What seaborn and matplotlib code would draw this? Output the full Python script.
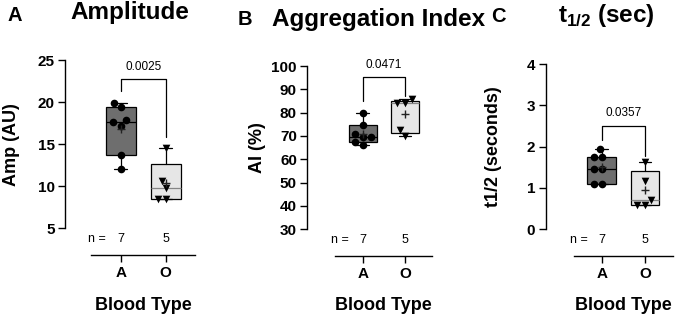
import numpy as np
import pandas as pd
import matplotlib
matplotlib.use("Agg")
from matplotlib import pyplot as plt
from matplotlib import transforms as mtransforms
import seaborn as sns

# values
groups = ["A", "O"]
n_counts = [7, 5]

amp_a = [19.9, 19.4, 17.9, 17.6, 17.2, 13.7, 12.0]
amp_o = [14.6, 10.6, 9.8, 8.5, 8.5]
ai_a = [79.7, 74.7, 70.7, 69.4, 69.4, 67.3, 66.1]
ai_o = [86.0, 84.3, 84.3, 72.5, 70.0]
t_a = [1.94, 1.76, 1.76, 1.45, 1.45, 1.09, 1.09]
t_o = [1.63, 1.18, 0.72, 0.60, 0.60]

p_values = ["0.0025", "0.0471", "0.0357"]
# bracket: top, left leg end, right leg end, label y
brackets = [(22.75, 21.35, 15.8, 24.2),
            (95.2, 85.0, 87.1, 100.4),
            (2.51, 2.16, 1.78, 2.81)]

letters = ["A", "B", "C"]
titles = ["Amplitude", "Aggregation Index", r"t$_{\mathbf{1/2}}$ (sec)"]
ylabels = ["Amp (AU)", "AI (%)", "t1/2 (seconds)"]
ylims = [(5, 25), (30, 100), (0, 4)]
yticks = [[5, 10, 15, 20, 25], [30, 40, 50, 60, 70, 80, 90, 100], [0, 1, 2, 3, 4]]

panels = [(amp_a, amp_o), (ai_a, ai_o), (t_a, t_o)]

# layout in pixels (678 x 320 figure)
W, H = 678, 320
spine_px = [65, 307.3, 545.7]
a_px = [120.7, 362.7, 601.7]
o_px = [165.7, 405.0, 645.0]
top_px = [60, 66, 64]
bottom_px = [228.3, 229.3, 229.3]
letter_pos = [(15, 20.7), (245, 25.0), (498, 21.7)]
title_pos = [(129.5, 19.5), (379, 26.0), (606, 21.7)]
ylabel_off = [53, 49.3, 52.7]

box_colors = ["#6e6e6e", "#e6e6e6"]
median_colors = ["black", "#858585"]
markers = ["o", "v"]

sns.set_theme(style="ticks")
plt.rcParams["font.family"] = ["Liberation Sans", "DejaVu Sans"]
plt.rcParams["font.weight"] = "bold"
plt.rcParams["axes.labelweight"] = "bold"
plt.rcParams["text.color"] = "black"
plt.rcParams["axes.labelcolor"] = "black"
plt.rcParams["xtick.color"] = "black"
plt.rcParams["ytick.color"] = "black"
plt.rcParams["mathtext.fontset"] = "custom"
plt.rcParams["mathtext.rm"] = "Liberation Sans:bold"
plt.rcParams["mathtext.bf"] = "Liberation Sans:bold"


def box_stats(vals):
    v = np.asarray(vals, dtype=float)
    q1, med, q3 = np.percentile(v, [25, 50, 75], method="weibull")
    return {"med": med, "q1": q1, "q3": q3,
            "whislo": v.min(), "whishi": v.max(), "fliers": []}


fig = plt.figure(figsize=(W / 100, H / 100), dpi=100)

for i, (vals_a, vals_o) in enumerate(panels):
    spacing = o_px[i] - a_px[i]
    xmin = -(a_px[i] - spine_px[i]) / spacing
    xmax = 1.65
    left = spine_px[i] / W
    width = spacing * (xmax - xmin) / W
    bottom = 1 - bottom_px[i] / H
    height = (bottom_px[i] - top_px[i]) / H
    ax = fig.add_axes([left, bottom, width, height])

    bp = ax.bxp([box_stats(vals_a), box_stats(vals_o)], positions=[0, 1],
                widths=0.66, capwidths=0.3, patch_artist=True, showfliers=False,
                manage_ticks=False,
                boxprops=dict(linewidth=0.9, edgecolor="black"),
                whiskerprops=dict(linewidth=0.9, color="black"),
                capprops=dict(linewidth=0.9, color="black"),
                medianprops=dict(linewidth=0.9))
    for patch, fc in zip(bp["boxes"], box_colors):
        patch.set_facecolor(fc)
    for med, mc in zip(bp["medians"], median_colors):
        med.set_color(mc)

    frames = []
    for g, vals, mk in zip(groups, [vals_a, vals_o], markers):
        df = pd.DataFrame({"Blood Type": [g] * len(vals), "Value": vals})
        frames.append(df)
        sns.swarmplot(data=df, x="Blood Type", y="Value", order=groups, marker=mk,
                      size=5.5, color="black", ax=ax, zorder=3)
    df_all = pd.concat(frames, ignore_index=True)
    sns.pointplot(data=df_all, x="Blood Type", y="Value", order=groups,
                  estimator="mean", errorbar=None, markers="+", linestyle="none",
                  color="#222222", markersize=6, markeredgewidth=1.0, ax=ax, zorder=4)

    # significance bracket
    top, l_end, r_end, ty = brackets[i]
    ax.plot([0, 0, 1, 1], [l_end, top, top, r_end], color="black", lw=0.9,
            clip_on=False, zorder=5)
    ax.text(0.5, ty, p_values[i], ha="center", va="center", fontsize=8.5,
            fontweight="normal")

    ax.set_xlim(xmin, xmax)
    ax.set_ylim(*ylims[i])
    ax.set_yticks(yticks[i])
    ax.set_xticks([0, 1])
    ax.set_xticklabels(groups)

    for s in ["top", "right"]:
        ax.spines[s].set_visible(False)
    ax.spines["left"].set_linewidth(1.0)
    ax.spines["left"].set_color("black")
    ax.spines["bottom"].set_position(("outward", 19.5))
    ax.spines["bottom"].set_bounds(-0.65, 1.65)
    ax.spines["bottom"].set_linewidth(1.0)
    ax.spines["bottom"].set_color("black")
    ax.tick_params(axis="both", direction="out", length=5, width=1.0,
                   color="black", labelsize=11, labelcolor="black", pad=2.5)

    # n = row
    n_trans = mtransforms.offset_copy(
        mtransforms.blended_transform_factory(ax.transData, ax.transAxes),
        fig=fig, y=-11, units="dots")
    ax.text(-0.53, 0, "n =", transform=n_trans, ha="center", va="center",
            fontsize=9, fontweight="normal")
    for k, n in enumerate(n_counts):
        ax.text(k, 0, str(n), transform=n_trans, ha="center", va="center",
                fontsize=9, fontweight="normal")

    ax.set_ylabel(ylabels[i], fontsize=13, fontweight="bold", va="center")
    ax.yaxis.set_label_coords(0, 0.5, transform=mtransforms.offset_copy(
        ax.transAxes, fig=fig, x=-ylabel_off[i], units="dots"))
    ax.set_xlabel("Blood Type", fontsize=13, fontweight="bold", va="center")
    ax.xaxis.set_label_coords(0.5, 0, transform=mtransforms.offset_copy(
        mtransforms.blended_transform_factory(ax.transData, ax.transAxes),
        fig=fig, y=-(306 - bottom_px[i]), units="dots"))

    lx, ly = letter_pos[i]
    fig.text(lx / W, 1 - ly / H, letters[i], ha="center", va="baseline",
             fontsize=14.5, fontweight="bold")
    tx, tyy = title_pos[i]
    fig.text(tx / W, 1 - tyy / H, titles[i], ha="center", va="baseline",
             fontsize=17.5, fontweight="bold")

fig.savefig("out.png", dpi=100)
